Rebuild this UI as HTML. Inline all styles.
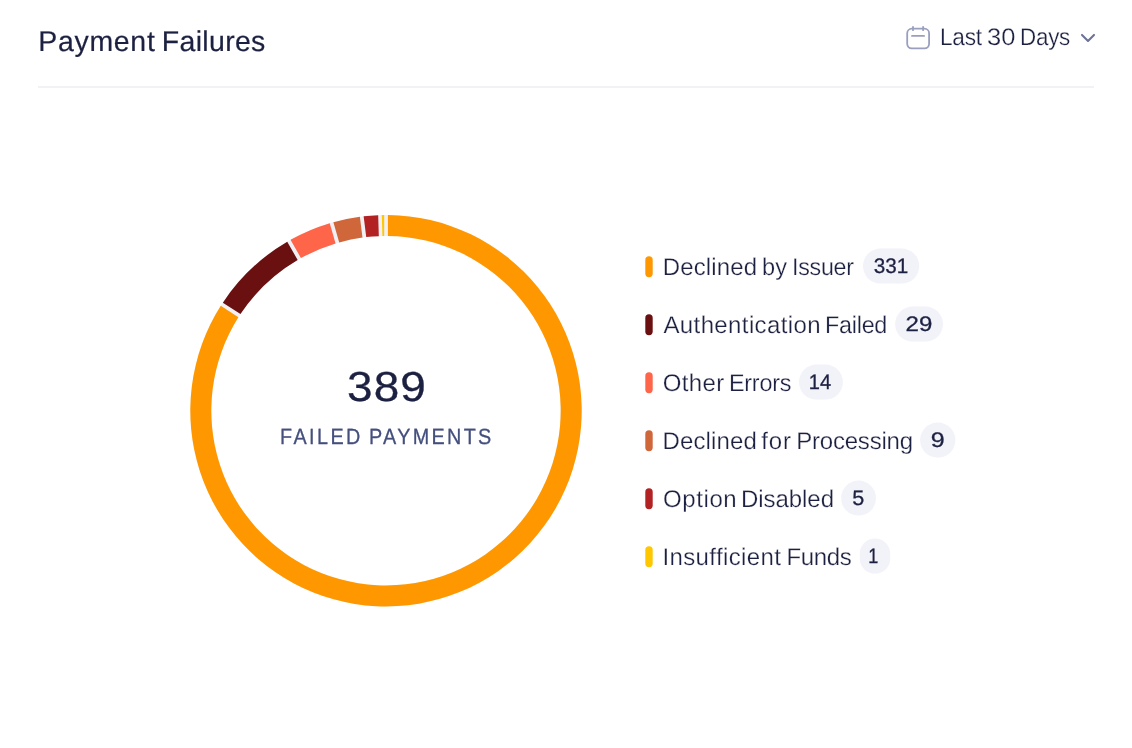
<!DOCTYPE html>
<html lang="en"><head><meta charset="utf-8"><title>Payment Failures</title>
<style>
html,body{margin:0;padding:0;background:#fff;}
body{width:1132px;height:748px;position:relative;overflow:hidden;font-family:"Liberation Sans",sans-serif;color:#1d2141;}
div{position:absolute;white-space:nowrap;line-height:1;text-rendering:geometricPrecision;transform-origin:0 50%;}
.title{font-size:28.5px;-webkit-text-stroke:0.2px #1d2141;}
.days{font-size:24px;-webkit-text-stroke:0.25px #fff;}
#rule{left:38px;top:86px;width:1056px;height:2px;background:#f1f2f5;}
#big{transform:scaleX(1.0933);font-size:42px;left:347.2px;top:366px;letter-spacing:1px;-webkit-text-stroke:0.3px #1d2141;}
.fp{font-size:22px;color:#444f7e;-webkit-text-stroke:0.3px #444f7e;}
.lab{font-size:24px;-webkit-text-stroke:0.25px #fff;}
.num{text-align:center;transform-origin:50% 50%;font-size:21px;-webkit-text-stroke:0.3px #1d2141;}
svg{position:absolute;left:0;top:0;}
span{display:inline-block;transform-origin:0 50%;}
</style></head><body>
<svg width="1132" height="748" viewBox="0 0 1132 748">
<g fill="none" stroke="#9a9fbf" stroke-width="1.8" stroke-linecap="round">
<rect x="907.2" y="28.7" width="21.9" height="19.7" rx="4.6"/>
<path d="M913 26.8v3.4M923.1 26.8v3.4M912 35.9h12.1"/>
</g>
<path d="M1082 34.9L1088 40.9L1094 34.9" fill="none" stroke="#6d7398" stroke-width="2.1" stroke-linecap="round" stroke-linejoin="round"/>
<circle cx="386.0" cy="410.7" r="185.2" fill="none" stroke="#f1f1f5" stroke-width="21.0"/>
<path d="M387.90 215.01A195.7 195.7 0 1 1 220.77 305.84L238.39 317.26A174.7 174.7 0 1 0 387.90 236.01Z" fill="#ff9800"/>
<path d="M222.83 302.65A195.7 195.7 0 0 1 287.24 241.75L297.66 259.98A174.7 174.7 0 0 0 240.46 314.07Z" fill="#6b1010"/>
<path d="M290.54 239.86A195.7 195.7 0 0 1 329.74 223.26L335.58 243.43A174.7 174.7 0 0 0 300.96 258.09Z" fill="#ff6549"/>
<path d="M333.39 222.21A195.7 195.7 0 0 1 359.87 216.75L362.47 237.59A174.7 174.7 0 0 0 339.23 242.38Z" fill="#d0673a"/>
<path d="M363.64 216.28A195.7 195.7 0 0 1 378.18 215.16L378.82 236.15A174.7 174.7 0 0 0 366.24 237.12Z" fill="#b22222"/>
<path d="M381.78 215.05A195.7 195.7 0 0 1 384.20 215.01L384.20 236.01A174.7 174.7 0 0 0 382.42 236.04Z" fill="#ffc700"/>
<rect x="645.3" y="256.25" width="7.4" height="21" rx="3.7" fill="#ff9800"/>
<rect x="863.0" y="248.6" width="56.2" height="35" rx="17.50" fill="#f2f2f9"/>
<rect x="645.3" y="314.25" width="7.4" height="21" rx="3.7" fill="#6b1010"/>
<rect x="895.1" y="306.6" width="47.9" height="35" rx="17.50" fill="#f2f2f9"/>
<rect x="645.3" y="372.25" width="7.4" height="21" rx="3.7" fill="#ff6549"/>
<rect x="799.0" y="364.6" width="43.9" height="35" rx="17.50" fill="#f2f2f9"/>
<rect x="645.3" y="430.25" width="7.4" height="21" rx="3.7" fill="#d0673a"/>
<rect x="920.1" y="422.6" width="35.3" height="35" rx="17.50" fill="#f2f2f9"/>
<rect x="645.3" y="488.25" width="7.4" height="21" rx="3.7" fill="#b22222"/>
<rect x="841.2" y="480.6" width="34.7" height="35" rx="17.35" fill="#f2f2f9"/>
<rect x="645.3" y="546.25" width="7.4" height="21" rx="3.7" fill="#ffc700"/>
<rect x="859.8" y="538.6" width="30.4" height="35" rx="15.20" fill="#f2f2f9"/>
</svg>
<div class="title" style="top:28.0px;left:38.25px"><span id="titlew0" style="letter-spacing:0.683px">Payment</span> <span id="titlew1" style="letter-spacing:0.309px;margin-left:-1.60px">Failures</span></div>
<div class="days" style="top:26.0px;left:940.20px"><span id="daysw0" style="letter-spacing:-0.250px;transform:scaleX(0.9436)">Last</span> <span id="daysw1" style="letter-spacing:0.000px;margin-left:-4.50px;transform:scaleX(1.0626)">30</span> <span id="daysw2" style="letter-spacing:-0.250px;margin-left:-0.22px;transform:scaleX(0.932)">Days</span></div>
<div id="rule"></div>
<div id="big">389</div>
<div class="fp" style="top:425.5px;left:279.75px"><span id="fpw0" style="letter-spacing:2.710px;transform:scaleX(0.9)">FAILED</span> <span id="fpw1" style="letter-spacing:2.594px;margin-left:-9.00px;transform:scaleX(0.9)">PAYMENTS</span></div>
<div class="lab" style="top:256.3px;left:662.70px"><span id="l0w0" style="letter-spacing:0.153px">Declined</span> <span id="l0w1" style="letter-spacing:0.000px;margin-left:-1.90px;transform:scaleX(0.9836)">by</span> <span id="l0w2" style="letter-spacing:-0.250px;margin-left:-2.04px;transform:scaleX(0.9665)">Issuer</span></div>
<div class="num" id="n0" style="top:256px;left:863.0px;width:56.2px;transform:scaleX(0.9838)">331</div>
<div class="lab" style="top:314.3px;left:663.45px"><span id="l1w0" style="letter-spacing:0.389px">Authentication</span> <span id="l1w1" style="letter-spacing:-0.250px;margin-left:-3.00px;transform:scaleX(0.9723)">Failed</span></div>
<div class="num" id="n1" style="top:314px;left:894.6px;width:47.9px;transform:scaleX(1.1464)">29</div>
<div class="lab" style="top:372.3px;left:662.70px"><span id="l2w0" style="letter-spacing:0.371px">Other</span> <span id="l2w1" style="letter-spacing:-0.250px;margin-left:-2.60px;transform:scaleX(0.973)">Errors</span></div>
<div class="num" id="n2" style="top:372px;left:798.0px;width:43.9px;transform:scaleX(0.9539)">14</div>
<div class="lab" style="top:430.3px;left:662.55px"><span id="l3w0" style="letter-spacing:0.126px">Declined</span> <span id="l3w1" style="letter-spacing:0.800px;margin-left:-2.30px">for</span> <span id="l3w2" style="letter-spacing:-0.223px;margin-left:-2.15px">Processing</span></div>
<div class="num" id="n3" style="top:430px;left:920.1px;width:35.3px;transform:scaleX(1.1915)">9</div>
<div class="lab" style="top:488.3px;left:663.05px"><span id="l4w0" style="letter-spacing:0.580px">Option</span> <span id="l4w1" style="letter-spacing:-0.043px;margin-left:-3.00px">Disabled</span></div>
<div class="num" id="n4" style="top:488px;left:841.2px;width:34.7px;transform:scaleX(1.0299)">5</div>
<div class="lab" style="top:546.3px;left:662.45px"><span id="l5w0" style="letter-spacing:0.384px">Insufficient</span> <span id="l5w1" style="letter-spacing:-0.333px;margin-left:-1.60px">Funds</span></div>
<div class="num" id="n5" style="top:546px;left:858.1px;width:30.4px;transform:scaleX(0.86)">1</div>
</body></html>
